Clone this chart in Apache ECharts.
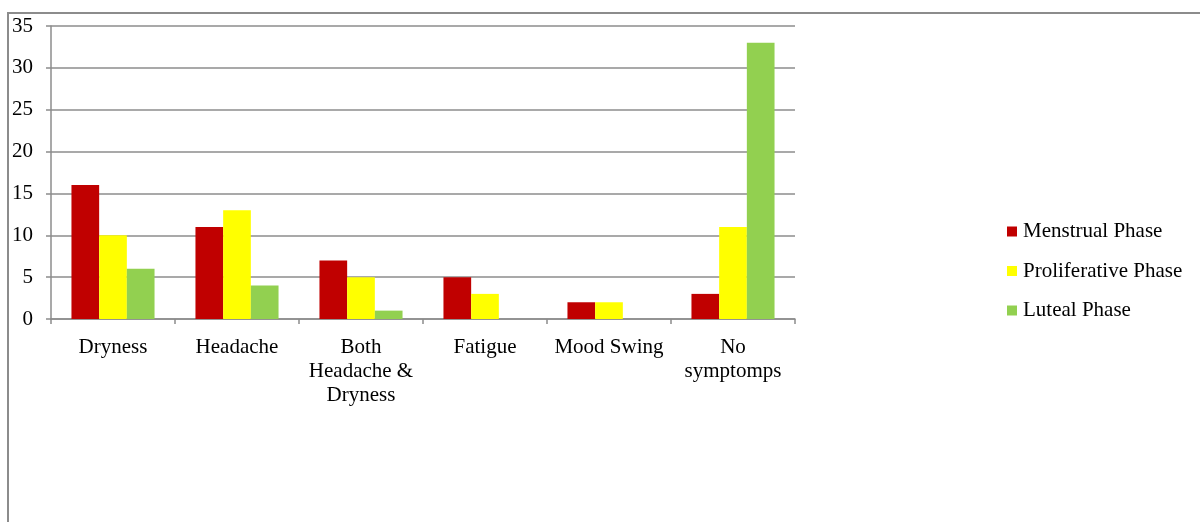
<!DOCTYPE html>
<html>
<head>
<meta charset="utf-8">
<style>
  html, body { margin: 0; padding: 0; background: #fff; }
  #chart { width: 1200px; height: 522px; }
</style>
<script src="https://cdn.jsdelivr.net/npm/echarts@6/dist/echarts.min.js"></script>
</head>
<body>
<div id="chart"></div>
<script>
// Symptoms reported across menstrual cycle phases
const categories = ['Dryness', 'Headache', 'Both\nHeadache &\nDryness', 'Fatigue', 'Mood Swing', 'No\nsymptomps'];
const menstrual = [16, 11, 7, 5, 2, 3];
const proliferative = [10, 13, 5, 3, 2, 11];
const luteal = [6, 4, 1, 0, 0, 33];
const seriesNames = ['Menstrual Phase', 'Proliferative Phase', 'Luteal Phase'];
const seriesColors = ['#C00000', '#FFFF00', '#92D050'];

const font = 'Liberation Serif, Times New Roman, serif';
const chart = echarts.init(document.getElementById('chart'));

const seriesData = [menstrual, proliferative, luteal];

chart.setOption({
  animation: false,
  textStyle: { fontFamily: font },
  graphic: [{
    type: 'rect',
    shape: { x: 8, y: 13, width: 1400, height: 700 },
    style: { fill: 'none', stroke: '#8c8c8c', lineWidth: 2 },
    silent: true
  }],
  grid: { left: 51, right: 405, top: 26, bottom: 203, containLabel: false },
  legend: {
    orient: 'vertical',
    left: 1002,
    top: 216,
    itemWidth: 10,
    itemHeight: 10,
    itemGap: 18.5,
    icon: 'rect',
    data: seriesNames,
    textStyle: { fontFamily: font, fontSize: 21, color: '#000', padding: [0, 0, 0, 1] }
  },
  xAxis: {
    type: 'category',
    data: categories,
    axisLine: { lineStyle: { color: '#8c8c8c', width: 1.5 } },
    axisTick: { show: true, length: 5, lineStyle: { color: '#8c8c8c', width: 1.5 } },
    axisLabel: { color: '#000', fontSize: 21, fontFamily: font, lineHeight: 24, margin: 16, interval: 0 }
  },
  yAxis: {
    type: 'value',
    min: 0,
    max: 35,
    interval: 5,
    axisLine: { show: true, lineStyle: { color: '#8c8c8c', width: 1.5 } },
    axisTick: { show: true, length: 5, lineStyle: { color: '#8c8c8c', width: 1.5 } },
    splitLine: { lineStyle: { color: '#8c8c8c', width: 1.5 } },
    axisLabel: { color: '#000', fontSize: 21, fontFamily: font, margin: 18 }
  },
  series: seriesNames.map((name, i) => ({
    name: name,
    type: 'bar',
    data: seriesData[i],
    barGap: '0%',
    barCategoryGap: '33%',
    itemStyle: { color: seriesColors[i] }
  }))
});
</script>
</body>
</html>
